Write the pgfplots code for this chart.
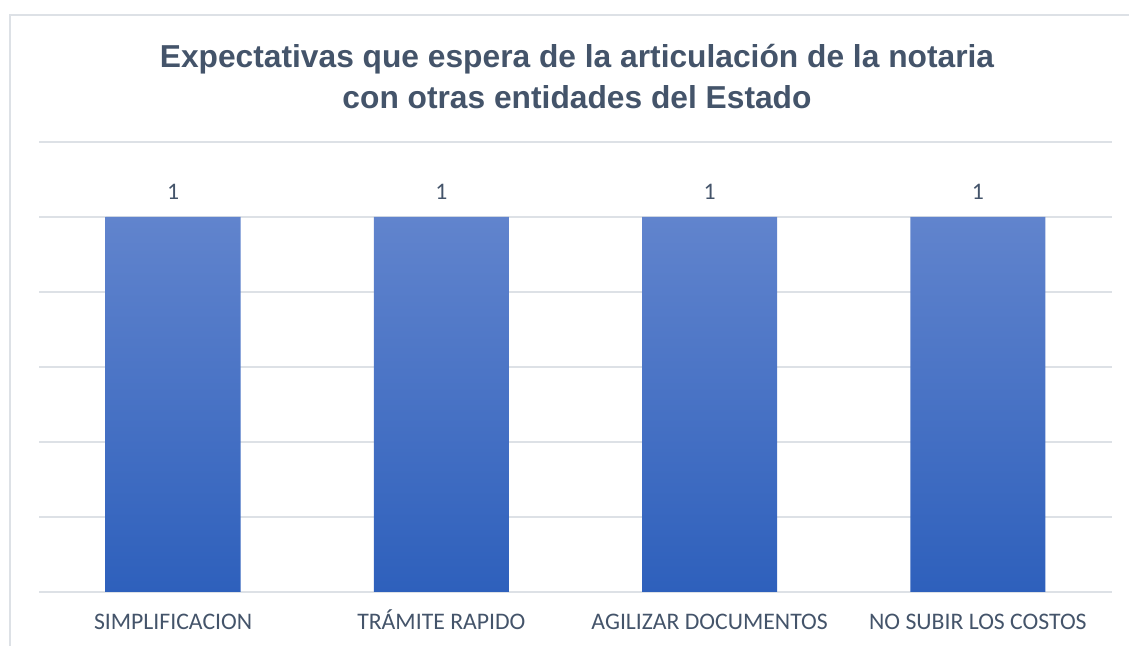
\documentclass[border=0pt]{standalone}
\usepackage{pgfplots}
\pgfplotsset{compat=1.18}
\usepackage{fontspec}
\setmainfont{Carlito}
\newfontfamily\titlefont{Liberation Sans}

\definecolor{slate}{HTML}{44546A}
\definecolor{gridc}{HTML}{DDE1E6}
\definecolor{barTop}{HTML}{6184CD}
\definecolor{barBot}{HTML}{2E60BC}

\begin{document}
\begin{tikzpicture}
\begin{axis}[
  at={(0,0)}, anchor=south west,
  scale only axis,
  width=804.75pt, height=337.5pt,
  ybar, bar width=101.25pt,
  xmin=-0.5, xmax=3.5,
  ymin=0, ymax=1.2,
  xtick=data,
  xticklabels={SIMPLIFICACION, TRÁMITE RAPIDO, AGILIZAR DOCUMENTOS, NO SUBIR LOS COSTOS},
  xticklabel style={font=\fontsize{17.8pt}{20pt}\selectfont, text=slate, anchor=base, yshift=-28.5pt},
  ytick={0,0.2,...,1.2},
  yticklabels={},
  ymajorgrids,
  grid style={gridc, line width=1pt},
  major tick length=0pt,
  axis line style={draw=none},
  /pgf/number format/assume math mode=true,
  nodes near coords,
  nodes near coords style={font=\fontsize{17.8pt}{20pt}\selectfont, text=slate, anchor=base, yshift=13pt},
  clip=false,
]
\addplot[draw=none, top color=barTop, bottom color=barBot] coordinates {
  (0,1) (1,1) (2,1) (3,1)
};
\end{axis}
\node[anchor=base, text=slate, font=\titlefont\bfseries\fontsize{23.8pt}{30pt}\selectfont] at (403.5pt,393pt) {Expectativas que espera de la articulación de la notaria};
\node[anchor=base, text=slate, font=\titlefont\bfseries\fontsize{23.8pt}{30pt}\selectfont] at (403.5pt,362.5pt) {con otras entidades del Estado};
\draw[gridc, line width=1pt] (-21.75pt,-40.5pt) -- (-21.75pt,432.75pt) -- (817.5pt,432.75pt);
\pgfresetboundingbox
\path[use as bounding box] (-29.25pt,-40.5pt) rectangle (817.5pt,444pt);
\end{tikzpicture}
\end{document}
